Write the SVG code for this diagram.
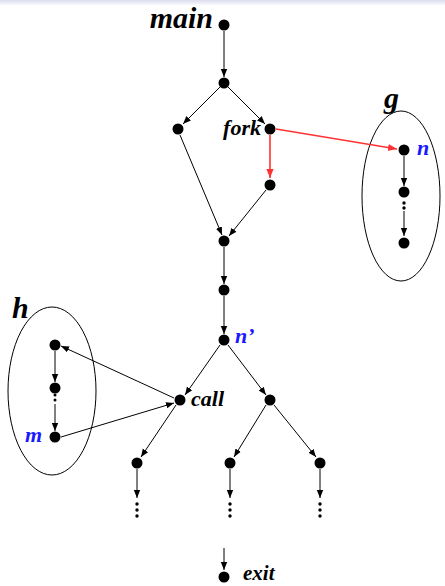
<svg xmlns="http://www.w3.org/2000/svg" width="445" height="586" viewBox="0 0 445 586">
<defs>
<style>
.e{stroke:#000;stroke-width:1;fill:none}
.r{stroke:#f33;stroke-width:1.6;fill:none}
.n{fill:#000}
.d{fill:#000}
.t{font-family:"Liberation Serif",serif;font-weight:bold;font-style:italic;fill:#000}
.b{fill:#1a1aff}
.ov{fill:none;stroke:#000;stroke-width:1}
</style>
<marker id="a" viewBox="0 0 10 10" refX="10" refY="5" markerWidth="8" markerHeight="8" markerUnits="userSpaceOnUse" orient="auto"><path d="M0,1 L10,5 L0,9 Z" fill="#000"/></marker>
<marker id="ar" viewBox="0 0 10 10" refX="10" refY="5" markerWidth="9" markerHeight="9" markerUnits="userSpaceOnUse" orient="auto"><path d="M0,1 L10,5 L0,9 Z" fill="#f33"/></marker>
<linearGradient id="top" x1="0" y1="0" x2="0" y2="1"><stop offset="0" stop-color="#dcdcf0"/><stop offset="1" stop-color="#fff"/></linearGradient>
</defs>
<rect x="0" y="0" width="445" height="586" fill="#fff"/>
<rect x="0" y="0" width="445" height="6" fill="url(#top)"/>
<g id="ellipses">
<ellipse id="g-proc" class="ov" cx="401" cy="196" rx="39" ry="85"/>
<ellipse id="h-proc" class="ov" cx="52" cy="391" rx="44" ry="84"/>
</g>
<g id="connectors">
<line class="e" x1="224" y1="31" x2="224" y2="77" marker-end="url(#a)"/>
<line class="e" x1="220" y1="87" x2="183" y2="124" marker-end="url(#a)"/>
<line class="e" x1="228" y1="87" x2="265" y2="124" marker-end="url(#a)"/>
<line class="r" x1="270" y1="135" x2="270" y2="178" marker-end="url(#ar)"/>
<line class="r" x1="276" y1="129" x2="397" y2="149" marker-end="url(#ar)"/>
<line class="e" x1="180" y1="135" x2="222" y2="235" marker-end="url(#a)"/>
<line class="e" x1="266" y1="190" x2="229" y2="236" marker-end="url(#a)"/>
<line class="e" x1="224" y1="247" x2="224" y2="284" marker-end="url(#a)"/>
<line class="e" x1="224" y1="296" x2="224" y2="334" marker-end="url(#a)"/>
<line class="e" x1="220" y1="345" x2="185" y2="395" marker-end="url(#a)"/>
<line class="e" x1="228" y1="345" x2="266" y2="395" marker-end="url(#a)"/>
<line class="e" x1="176" y1="405" x2="141" y2="457" marker-end="url(#a)"/>
<line class="e" x1="266" y1="405" x2="234" y2="457" marker-end="url(#a)"/>
<line class="e" x1="274" y1="405" x2="316" y2="457" marker-end="url(#a)"/>
<line class="e" x1="137" y1="469" x2="137" y2="498" marker-end="url(#a)"/>
<line class="e" x1="230" y1="469" x2="230" y2="498" marker-end="url(#a)"/>
<line class="e" x1="320" y1="469" x2="320" y2="498" marker-end="url(#a)"/>
<line class="e" x1="224" y1="548" x2="224" y2="570" marker-end="url(#a)"/>
<line class="e" x1="404" y1="156" x2="404" y2="186" marker-end="url(#a)"/>
<line class="e" x1="404" y1="211" x2="404" y2="236" marker-end="url(#a)"/>
<line class="e" x1="55" y1="351" x2="55" y2="382" marker-end="url(#a)"/>
<line class="e" x1="55" y1="404" x2="55" y2="431" marker-end="url(#a)"/>
<line class="e" x1="174" y1="398" x2="61" y2="346" marker-end="url(#a)"/>
<line class="e" x1="61" y1="437" x2="174" y2="403" marker-end="url(#a)"/>
</g>
<g id="dots">
<circle class="d" cx="137" cy="504" r="1.7"/><circle class="d" cx="137" cy="510" r="1.7"/><circle class="d" cx="137" cy="516" r="1.7"/>
<circle class="d" cx="230" cy="504" r="1.7"/><circle class="d" cx="230" cy="510" r="1.7"/><circle class="d" cx="230" cy="516" r="1.7"/>
<circle class="d" cx="320" cy="504" r="1.7"/><circle class="d" cx="320" cy="510" r="1.7"/><circle class="d" cx="320" cy="516" r="1.7"/>
<circle class="d" cx="404" cy="203" r="1.7"/><circle class="d" cx="404" cy="208" r="1.7"/>
<circle class="d" cx="55" cy="395" r="1.5"/><circle class="d" cx="55" cy="400" r="1.5"/>
</g>
<g id="main"><circle class="n" cx="224" cy="25" r="5.5"/><text class="t" x="213" y="28" font-size="30" text-anchor="end">main</text></g>
<g id="n1"><circle class="n" cx="224" cy="83" r="5.5"/></g>
<g id="left"><circle class="n" cx="178" cy="129" r="5.5"/></g>
<g id="fork"><circle class="n" cx="270" cy="129" r="5.5"/><text class="t" x="261" y="135" font-size="22" text-anchor="end">fork</text></g>
<g id="forkchild"><circle class="n" cx="270" cy="185" r="5.5"/></g>
<g id="join"><circle class="n" cx="224" cy="241" r="5.5"/></g>
<g id="n2"><circle class="n" cx="224" cy="290" r="5.5"/></g>
<g id="nprime"><circle class="n" cx="224" cy="340" r="5.5"/><text class="t b" x="235" y="343" font-size="22">n’</text></g>
<g id="call"><circle class="n" cx="180" cy="400" r="5.5"/><text class="t" x="191" y="406" font-size="22">call</text></g>
<g id="rchild"><circle class="n" cx="270" cy="400" r="5.5"/></g>
<g id="leaf1"><circle class="n" cx="137" cy="463" r="5.5"/></g>
<g id="leaf2"><circle class="n" cx="230" cy="463" r="5.5"/></g>
<g id="leaf3"><circle class="n" cx="320" cy="463" r="5.5"/></g>
<g id="exit"><circle class="n" cx="224" cy="577" r="5.5"/><text class="t" x="243" y="580" font-size="21">exit</text></g>
<g id="g"><text class="t" x="384" y="108" font-size="30">g</text>
<circle class="n" cx="404" cy="150" r="5.5"/><text class="t b" x="417" y="155" font-size="22">n</text>
<circle class="n" cx="404" cy="192" r="5.5"/>
<circle class="n" cx="404" cy="243" r="5.5"/></g>
<g id="h"><text class="t" x="12" y="318" font-size="30">h</text>
<circle class="n" cx="55" cy="345" r="5.5"/>
<circle class="n" cx="55" cy="388" r="5.5"/>
<circle class="n" cx="55" cy="437" r="5.5"/><text class="t b" x="25" y="442" font-size="22">m</text></g>
</svg>
